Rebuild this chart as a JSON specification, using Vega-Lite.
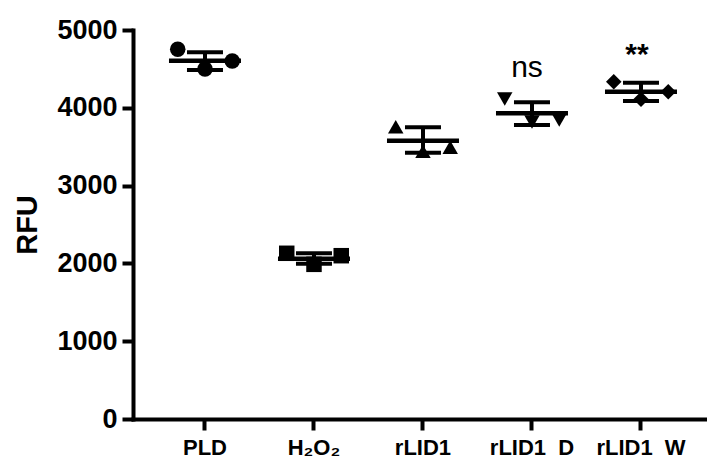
{
  "$schema": "https://vega.github.io/schema/vega-lite/v6.json",
  "width": 574,
  "height": 389,
  "autosize": {"type": "none"},
  "padding": {"left": 133, "top": 30, "right": 0, "bottom": 39},
  "background": "white",
  "config": {"view": {"stroke": null}, "font": "Liberation Sans"},
  "datasets": {
    "points": [
      {"group": "PLD", "rep": 1, "rfu": 4752},
      {"group": "PLD", "rep": 2, "rfu": 4499},
      {"group": "PLD", "rep": 3, "rfu": 4602},
      {"group": "H\u2082O\u2082", "rep": 1, "rfu": 2130},
      {"group": "H\u2082O\u2082", "rep": 2, "rfu": 1988},
      {"group": "H\u2082O\u2082", "rep": 3, "rfu": 2099},
      {"group": "rLID1", "rep": 1, "rfu": 3757},
      {"group": "rLID1", "rep": 2, "rfu": 3440},
      {"group": "rLID1", "rep": 3, "rfu": 3492},
      {"group": "rLID1\u00a0\u00a0D", "rep": 1, "rfu": 4113},
      {"group": "rLID1\u00a0\u00a0D", "rep": 2, "rfu": 3817},
      {"group": "rLID1\u00a0\u00a0D", "rep": 3, "rfu": 3843},
      {"group": "rLID1\u00a0\u00a0W", "rep": 1, "rfu": 4335},
      {"group": "rLID1\u00a0\u00a0W", "rep": 2, "rfu": 4109},
      {"group": "rLID1\u00a0\u00a0W", "rep": 3, "rfu": 4207}
    ],
    "summary": [
      {"group": "PLD", "mean": 4605, "lo": 4486, "hi": 4713},
      {"group": "H\u2082O\u2082", "mean": 2060, "lo": 1995, "hi": 2130},
      {"group": "rLID1", "mean": 3577, "lo": 3423, "hi": 3749},
      {"group": "rLID1\u00a0\u00a0D", "mean": 3929, "lo": 3779, "hi": 4071},
      {"group": "rLID1\u00a0\u00a0W", "mean": 4207, "lo": 4087, "hi": 4323}
    ],
    "notes": [
      {"group": "rLID1\u00a0\u00a0D", "label": "ns", "rfu": 4394},
      {"group": "rLID1\u00a0\u00a0W", "label": "**", "rfu": 4567}
    ]
  },
  "encoding": {
    "x": {
      "field": "group",
      "type": "nominal",
      "sort": ["PLD", "H\u2082O\u2082", "rLID1", "rLID1\u00a0\u00a0D", "rLID1\u00a0\u00a0W"],
      "scale": {
        "type": "band",
        "domain": ["PLD", "H\u2082O\u2082", "rLID1", "rLID1\u00a0\u00a0D", "rLID1\u00a0\u00a0W"],
        "paddingInner": 0,
        "paddingOuter": 0.133,
        "align": 0.603
      },
      "axis": {
        "title": null,
        "labelAngle": 0,
        "labelFontSize": 22,
        "labelFontWeight": "bold",
        "labelColor": "black",
        "labelPadding": 7,
        "tickSize": 11,
        "tickWidth": 4,
        "tickColor": "black",
        "domainWidth": 4,
        "domainColor": "black",
        "domainCap": "square"
      }
    }
  },
  "layer": [
    {
      "data": {"name": "summary"},
      "mark": {"type": "rule", "strokeWidth": 4, "color": "black"},
      "encoding": {
        "y": {
          "field": "lo",
          "type": "quantitative",
          "scale": {"domain": [0, 5000], "nice": false},
          "axis": {
            "values": [0, 1000, 2000, 3000, 4000, 5000],
            "format": "d",
            "grid": false,
            "title": "RFU",
            "titleFontSize": 29,
            "titleFontWeight": "bold",
            "titleColor": "black",
            "titlePadding": 14,
            "labelFontSize": 27,
            "labelFontWeight": "bold",
            "labelColor": "black",
            "labelPadding": 5,
            "tickSize": 11,
            "tickWidth": 4,
            "tickColor": "black",
            "domainWidth": 4,
            "domainColor": "black",
            "domainCap": "square"
          }
        },
        "y2": {"field": "hi"}
      }
    },
    {
      "data": {"name": "summary"},
      "mark": {"type": "tick", "orient": "horizontal", "size": 72, "thickness": 4.5, "color": "black", "opacity": 1},
      "encoding": {"y": {"field": "mean", "type": "quantitative"}}
    },
    {
      "data": {"name": "summary"},
      "mark": {"type": "tick", "orient": "horizontal", "size": 36, "thickness": 4, "color": "black", "opacity": 1},
      "encoding": {"y": {"field": "hi", "type": "quantitative"}}
    },
    {
      "data": {"name": "summary"},
      "mark": {"type": "tick", "orient": "horizontal", "size": 36, "thickness": 4, "color": "black", "opacity": 1},
      "encoding": {"y": {"field": "lo", "type": "quantitative"}}
    },
    {
      "data": {"name": "points"},
      "mark": {"type": "point", "filled": true, "size": 240, "color": "black", "opacity": 1},
      "encoding": {
        "xOffset": {"field": "rep", "type": "ordinal", "scale": {"type": "point", "padding": 1.32}},
        "y": {"field": "rfu", "type": "quantitative"},
        "shape": {
          "field": "group",
          "type": "nominal",
          "scale": {
            "domain": ["PLD", "H\u2082O\u2082", "rLID1", "rLID1\u00a0\u00a0D", "rLID1\u00a0\u00a0W"],
            "range": ["circle", "square", "triangle-up", "triangle-down", "diamond"]
          },
          "legend": null
        }
      }
    },
    {
      "data": {"name": "notes"},
      "transform": [{"filter": "datum.label == 'ns'"}],
      "mark": {"type": "text", "fontSize": 30, "fontWeight": "normal", "color": "black", "baseline": "alphabetic", "dx": -5},
      "encoding": {
        "y": {"field": "rfu", "type": "quantitative"},
        "text": {"field": "label"}
      }
    },
    {
      "data": {"name": "notes"},
      "transform": [{"filter": "datum.label == '**'"}],
      "mark": {"type": "text", "fontSize": 30, "fontWeight": "bold", "color": "black", "baseline": "alphabetic", "dx": -4},
      "encoding": {
        "y": {"field": "rfu", "type": "quantitative"},
        "text": {"field": "label"}
      }
    }
  ]
}
